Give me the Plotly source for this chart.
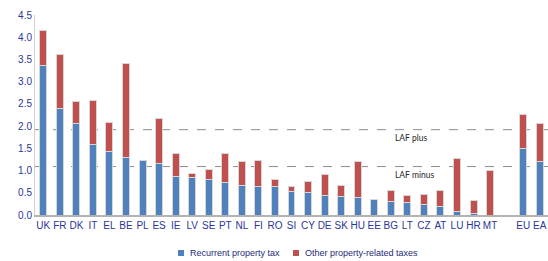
import plotly.graph_objects as go

countries = ["UK", "FR", "DK", "IT", "EL", "BE", "PL", "ES", "IE", "LV", "SE", "PT", "NL", "FI",
             "RO", "SI", "CY", "DE", "SK", "HU", "EE", "BG", "LT", "CZ", "AT", "LU", "HR", "MT",
             " ", "EU", "EA"]
recurrent = [3.36, 2.39, 2.07, 1.58, 1.42, 1.29, 1.23, 1.16, 0.87, 0.84, 0.80, 0.73, 0.67, 0.65,
             0.64, 0.53, 0.51, 0.44, 0.41, 0.40, 0.34, 0.31, 0.29, 0.24, 0.20, 0.07, 0.04, 0.00,
             None, 1.49, 1.21]
other = [0.79, 1.22, 0.48, 1.00, 0.66, 2.13, 0.00, 1.01, 0.51, 0.10, 0.22, 0.65, 0.54, 0.58,
         0.15, 0.11, 0.24, 0.48, 0.26, 0.80, 0.00, 0.25, 0.15, 0.22, 0.35, 1.20, 0.28, 1.01,
         None, 0.78, 0.84]
series_names = ["Recurrent property tax", "Other property-related taxes"]
laf_plus = 1.92
laf_minus = 1.09
y_ticks = [0.0, 0.5, 1.0, 1.5, 2.0, 2.5, 3.0, 3.5, 4.0, 4.5]

BLUE = "#4F81BD"
RED = "#C0504D"
NAVY = "#2B369A"
OUTLINE = "#D6D6D6"

fig = go.Figure()
fig.add_bar(x=countries, y=recurrent, name=series_names[0], marker_color=BLUE,
            marker_line=dict(color=OUTLINE, width=1), width=0.42, showlegend=False)
fig.add_bar(x=countries, y=other, name=series_names[1], marker_color=RED,
            marker_line=dict(color=OUTLINE, width=1), width=0.42, showlegend=False)

for val in (laf_plus, laf_minus):
    fig.add_shape(type="line", xref="paper", yref="y", x0=0, x1=1, y0=val, y1=val,
                  line=dict(color="#8C8C8C", width=1, dash="dash"), layer="below")

lab_font = dict(family="Lato, Open Sans, sans-serif", size=8.5, color="#262626")
fig.add_annotation(x=21.15, y=laf_plus, xref="x", yref="y", text="LAF plus", showarrow=False,
                   xanchor="left", yanchor="top", yshift=-1, font=lab_font)
fig.add_annotation(x=21.15, y=laf_minus, xref="x", yref="y", text="LAF minus", showarrow=False,
                   xanchor="left", yanchor="top", yshift=-1, font=lab_font)

# manual legend: small square swatches + text
leg_font = dict(family="Liberation Sans, Arial, sans-serif", size=9, color="#1F2A7A")
for (x0, x1, tx), col, name in zip([(0.2788, 0.2904, 0.2982), (0.5029, 0.5146, 0.5224)],
                                    [BLUE, RED], series_names):
    fig.add_shape(type="rect", xref="paper", yref="paper", x0=x0, x1=x1, y0=-0.205, y1=-0.175,
                  fillcolor=col, line=dict(width=0))
    fig.add_annotation(x=tx, y=-0.19, xref="paper", yref="paper", text=name, showarrow=False,
                       xanchor="left", yanchor="middle", font=leg_font)

fig.update_layout(
    barmode="stack",
    width=548, height=261,
    margin=dict(l=35, r=0, t=15, b=46, autoexpand=False),
    paper_bgcolor="white", plot_bgcolor="white",
    showlegend=False,
    font=dict(family="Liberation Sans, Arial, sans-serif", size=9.5, color=NAVY),
    xaxis=dict(type="category", categoryorder="array", categoryarray=countries,
               showline=True, linecolor="#B3B3B3", linewidth=1.5, ticks="", automargin=False,
               showgrid=False, tickfont=dict(size=10, color=NAVY), range=[-0.5, 30.5]),
    yaxis=dict(range=[0, 4.5], tickvals=y_ticks, tickformat=".1f", showline=True,
               linecolor="#D0D0D0", linewidth=1, showgrid=False, zeroline=False,
               automargin=False,
               ticks="", tickfont=dict(size=10, color=NAVY)),
)

fig.write_html("out.html", config={"displayModeBar": False},
               post_script="document.body.style.margin='0';document.body.style.overflow='hidden';")
